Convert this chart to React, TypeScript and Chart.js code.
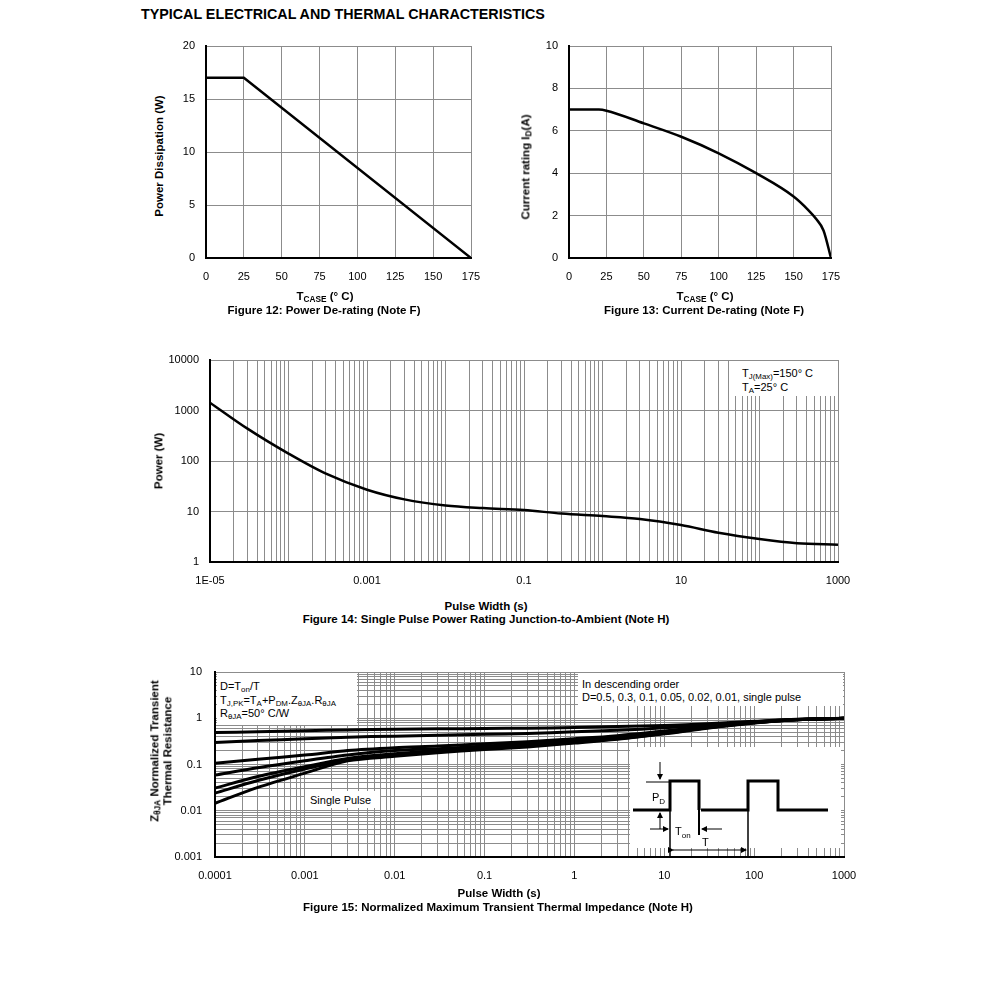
import React, { useEffect, useRef } from 'react';
import { Chart, registerables } from 'chart.js';

Chart.register(...registerables);

const FONT = "'Liberation Sans', Arial, Helvetica, sans-serif";
const GRID = '#8c8c8c';

// ---------- Figure 12: Power De-rating ----------
const fig12Temp = [0, 25, 175];
const fig12Power = [17, 17, 0];
const fig12XTicks = [0, 25, 50, 75, 100, 125, 150, 175];
const fig12YTicks = [0, 5, 10, 15, 20];

// ---------- Figure 13: Current De-rating ----------
const fig13Temp = [0, 20, 25, 50, 75, 100, 125, 150, 160, 165, 170, 175];
const fig13Current = [7, 7, 6.95, 6.35, 5.72, 4.94, 4.0, 2.9, 2.25, 1.85, 1.3, 0];
const fig13XTicks = [0, 25, 50, 75, 100, 125, 150, 175];
const fig13YTicks = [0, 2, 4, 6, 8, 10];

// ---------- Figure 14: Single Pulse Power Rating ----------
const fig14PulseWidth = [1e-5, 3e-5, 1e-4, 3e-4, 1e-3, 3e-3, 0.01, 0.03, 0.1, 0.3, 1, 3, 10, 30, 100, 300, 1000];
const fig14Power = [1430, 437, 140, 56, 27, 17.4, 13.2, 11.7, 10.7, 9.1, 8.1, 7.1, 5.4, 3.8, 2.85, 2.35, 2.2];
const fig14XTickValues = [1e-5, 1e-3, 0.1, 10, 1000];
const fig14XTickLabels = ['1E-05', '0.001', '0.1', '10', '1000'];
const fig14YTickValues = [1, 10, 100, 1000, 10000];
const fig14YTickLabels = ['1', '10', '100', '1000', '10000'];

// ---------- Figure 15: Normalized Transient Thermal Impedance ----------
const fig15PulseWidth = [1e-4, 3e-4, 1e-3, 3e-3, 1e-2, 3e-2, 0.1, 0.3, 1, 3, 10, 30, 100, 300, 1000];
const fig15D05 = [0.49, 0.51, 0.54, 0.56, 0.58, 0.59, 0.6, 0.61, 0.63, 0.66, 0.7, 0.76, 0.86, 0.95, 1.0];
const fig15D03 = [0.3, 0.33, 0.36, 0.39, 0.41, 0.43, 0.45, 0.47, 0.51, 0.55, 0.62, 0.72, 0.84, 0.94, 1.0];
const fig15D01 = [0.106, 0.13, 0.16, 0.2, 0.23, 0.25, 0.28, 0.31, 0.36, 0.42, 0.53, 0.66, 0.82, 0.94, 1.0];
const fig15D005 = [0.059, 0.085, 0.12, 0.16, 0.2, 0.22, 0.25, 0.28, 0.33, 0.39, 0.5, 0.64, 0.81, 0.93, 1.0];
const fig15D002 = [0.031, 0.055, 0.09, 0.135, 0.17, 0.2, 0.23, 0.26, 0.31, 0.37, 0.48, 0.63, 0.8, 0.93, 1.0];
const fig15D001 = [0.024, 0.045, 0.08, 0.125, 0.16, 0.19, 0.22, 0.25, 0.3, 0.36, 0.47, 0.62, 0.8, 0.93, 1.0];
const fig15Single = [0.0145, 0.032, 0.065, 0.12, 0.15, 0.18, 0.21, 0.24, 0.29, 0.35, 0.46, 0.61, 0.79, 0.93, 1.0];
const fig15Series = [fig15D05, fig15D03, fig15D01, fig15D005, fig15D002, fig15D001, fig15Single];
const fig15XTickValues = [1e-4, 1e-3, 1e-2, 0.1, 1, 10, 100, 1000];
const fig15XTickLabels = ['0.0001', '0.001', '0.01', '0.1', '1', '10', '100', '1000'];
const fig15YTickValues = [0.001, 0.01, 0.1, 1, 10];
const fig15YTickLabels = ['0.001', '0.01', '0.1', '1', '10'];

// ---------- helpers ----------
function logGrid(minExp: number, maxExp: number, minor: boolean): number[] {
  const out: number[] = [];
  for (let e = minExp; e < maxExp; e++) {
    const n = minor ? 9 : 1;
    for (let k = 1; k <= n; k++) out.push(k * Math.pow(10, e));
  }
  out.push(Math.pow(10, maxExp));
  return out;
}

function logLabel(values: number[], labels: string[]) {
  return (v: number) => {
    const i = values.findIndex((t) => Math.abs(Math.log10(t) - Math.log10(v)) < 1e-6);
    return i >= 0 ? labels[i] : '';
  };
}

function makeScale(o: {
  type: 'linear' | 'logarithmic';
  min: number;
  max: number;
  ticks: number[];
  label: (v: number) => string;
  size: number;
  horizontal: boolean;
  padding: number;
  fontSize: number;
}) {
  return {
    type: o.type,
    min: o.min,
    max: o.max,
    afterBuildTicks: (s: any) => {
      s.ticks = o.ticks.map((v) => ({ value: v }));
    },
    afterFit: (s: any) => {
      if (o.horizontal) s.height = o.size;
      else s.width = o.size;
      s.paddingTop = 0;
      s.paddingBottom = 0;
      s.paddingLeft = 0;
      s.paddingRight = 0;
    },
    grid: { color: GRID, lineWidth: 1, drawTicks: false },
    border: { display: true, color: '#000', width: 2 },
    ticks: {
      padding: o.padding,
      color: '#000',
      font: { family: FONT, size: o.fontSize },
      autoSkip: false,
      maxRotation: 0,
      minRotation: 0,
      callback: (v: any) => o.label(Number(v)),
    },
  };
}

function baseOptions(top: number, right: number, scales: any) {
  return {
    animation: false,
    responsive: false,
    events: [],
    layout: { padding: { top, right, left: 0, bottom: 0 } },
    plugins: { legend: { display: false }, tooltip: { enabled: false }, title: { display: false } },
    scales,
  };
}

function toPoints(xs: number[], ys: number[]) {
  return xs.map((x, i) => ({ x, y: ys[i] }));
}

function ChartCanvas(props: { left: number; top: number; width: number; height: number; build: () => any }) {
  const ref = useRef<HTMLCanvasElement | null>(null);
  useEffect(() => {
    if (!ref.current) return;
    const chart = new Chart(ref.current, props.build());
    return () => chart.destroy();
  }, []);
  return (
    <canvas
      ref={ref}
      width={props.width}
      height={props.height}
      style={{ position: 'absolute', left: props.left, top: props.top, width: props.width, height: props.height }}
    />
  );
}

const Sub = (p: { children: any }) => (
  <span style={{ fontSize: '0.72em', position: 'relative', top: '0.3em' }}>{p.children}</span>
);

function T(p: {
  x: number;
  y: number;
  children: any;
  size?: number;
  bold?: boolean;
  rotate?: boolean;
  left?: boolean;
  lh?: number;
}) {
  const tr = p.left ? 'translate(0,-50%)' : `translate(-50%,-50%)${p.rotate ? ' rotate(-90deg)' : ''}`;
  return (
    <div
      style={{
        position: 'absolute',
        left: p.x,
        top: p.y,
        transform: tr,
        whiteSpace: 'nowrap',
        fontFamily: FONT,
        fontSize: p.size ?? 11,
        fontWeight: p.bold ? 700 : 400,
        color: '#000',
        lineHeight: p.lh ?? 1.15,
        textAlign: p.left ? 'left' : 'center',
      }}
    >
      {p.children}
    </div>
  );
}

const Box = (p: { x: number; y: number; w: number; h: number }) => (
  <div style={{ position: 'absolute', left: p.x, top: p.y, width: p.w, height: p.h, background: '#fff' }} />
);

// ---------- chart configs ----------
const buildFig12 = () => ({
  type: 'line',
  data: {
    datasets: [
      { data: toPoints(fig12Temp, fig12Power), borderColor: '#000', borderWidth: 2.5, pointRadius: 0, tension: 0 },
    ],
  },
  options: baseOptions(10, 19, {
    x: makeScale({ type: 'linear', min: 0, max: 175, ticks: fig12XTicks, label: (v) => String(v), size: 33, horizontal: true, padding: 12, fontSize: 11 }),
    y: makeScale({ type: 'linear', min: 0, max: 20, ticks: fig12YTicks, label: (v) => String(v), size: 36, horizontal: false, padding: 11, fontSize: 11 }),
  }),
});

const buildFig13 = () => ({
  type: 'line',
  data: {
    datasets: [
      { data: toPoints(fig13Temp, fig13Current), borderColor: '#000', borderWidth: 2.5, pointRadius: 0, cubicInterpolationMode: 'monotone' },
    ],
  },
  options: baseOptions(10, 19, {
    x: makeScale({ type: 'linear', min: 0, max: 175, ticks: fig13XTicks, label: (v) => String(v), size: 33, horizontal: true, padding: 12, fontSize: 11 }),
    y: makeScale({ type: 'linear', min: 0, max: 10, ticks: fig13YTicks, label: (v) => String(v), size: 39, horizontal: false, padding: 11, fontSize: 11 }),
  }),
});

const buildFig14 = () => ({
  type: 'line',
  data: {
    datasets: [
      { data: toPoints(fig14PulseWidth, fig14Power), borderColor: '#000', borderWidth: 2.5, pointRadius: 0, cubicInterpolationMode: 'monotone' },
    ],
  },
  options: baseOptions(10, 22, {
    x: makeScale({ type: 'logarithmic', min: 1e-5, max: 1000, ticks: logGrid(-5, 3, true), label: logLabel(fig14XTickValues, fig14XTickLabels), size: 33, horizontal: true, padding: 12, fontSize: 11 }),
    y: makeScale({ type: 'logarithmic', min: 1, max: 10000, ticks: logGrid(0, 4, false), label: logLabel(fig14YTickValues, fig14YTickLabels), size: 70, horizontal: false, padding: 11, fontSize: 11 }),
  }),
});

const buildFig15 = () => ({
  type: 'line',
  data: {
    datasets: fig15Series.map((s) => ({
      data: toPoints(fig15PulseWidth, s),
      borderColor: '#000',
      borderWidth: 3,
      pointRadius: 0,
      tension: 0.3,
    })),
  },
  options: baseOptions(10, 16, {
    x: makeScale({ type: 'logarithmic', min: 1e-4, max: 1000, ticks: logGrid(-4, 3, true), label: logLabel(fig15XTickValues, fig15XTickLabels), size: 33, horizontal: true, padding: 12, fontSize: 11 }),
    y: makeScale({ type: 'logarithmic', min: 0.001, max: 10, ticks: logGrid(-3, 1, true), label: logLabel(fig15YTickValues, fig15YTickLabels), size: 45, horizontal: false, padding: 13, fontSize: 11 }),
  }),
});

export default function App() {
  return (
    <div style={{ position: 'absolute', left: 0, top: 0, width: 991, height: 988, background: '#fff', overflow: 'hidden' }}>
      <T x={141} y={14} size={14.3} bold left>
        TYPICAL ELECTRICAL AND THERMAL CHARACTERISTICS
      </T>

      {/* Figure 12 */}
      <ChartCanvas left={170} top={36} width={320} height={255} build={buildFig12} />
      <T x={160} y={156} size={11.5} bold rotate>
        Power Dissipation (W)
      </T>
      <T x={325} y={297} size={11.5} bold>
        T<Sub>CASE</Sub> (° C)
      </T>
      <T x={324} y={311} size={11.5} bold>
        Figure 12: Power De-rating (Note F)
      </T>

      {/* Figure 13 */}
      <ChartCanvas left={530} top={36} width={320} height={255} build={buildFig13} />
      <T x={526} y={167} size={11.5} bold rotate>
        Current rating I<Sub>D</Sub>(A)
      </T>
      <T x={705} y={297} size={11.5} bold>
        T<Sub>CASE</Sub> (° C)
      </T>
      <T x={704} y={311} size={11.5} bold>
        Figure 13: Current De-rating (Note F)
      </T>

      {/* Figure 14 */}
      <ChartCanvas left={140} top={350} width={720} height={245} build={buildFig14} />
      <Box x={733} y={361} w={102} h={35} />
      <T x={742} y={373} size={11} left>
        T<Sub>J(Max)</Sub>=150° C
      </T>
      <T x={742} y={387} size={11} left>
        T<Sub>A</Sub>=25° C
      </T>
      <T x={159} y={461} size={11.5} bold rotate>
        Power (W)
      </T>
      <T x={486} y={607} size={11.5} bold>
        Pulse Width (s)
      </T>
      <T x={486} y={620} size={11.5} bold>
        Figure 14: Single Pulse Power Rating Junction-to-Ambient (Note H)
      </T>

      {/* Figure 15 */}
      <ChartCanvas left={170} top={662} width={690} height={228} build={buildFig15} />
      <Box x={217} y={673} w={140} h={52} />
      <T x={220} y={686} size={11} left>
        D=T<Sub>on</Sub>/T
      </T>
      <T x={220} y={700} size={11} left>
        T<Sub>J,PK</Sub>=T<Sub>A</Sub>+P<Sub>DM</Sub>.Z<Sub>θJA</Sub>.R<Sub>θJA</Sub>
      </T>
      <T x={220} y={713} size={11} left>
        R<Sub>θJA</Sub>=50° C/W
      </T>
      <Box x={578} y={673} w={265} h={33} />
      <T x={582} y={684} size={11} left>
        In descending order
      </T>
      <T x={582} y={697} size={11} left>
        D=0.5, 0.3, 0.1, 0.05, 0.02, 0.01, single pulse
      </T>
      <Box x={305} y={791} w={75} h={17} />
      <T x={310} y={800} size={11} left>
        Single Pulse
      </T>
      <Box x={630} y={747} w={211} h={101} />
      <svg
        width={213}
        height={111}
        style={{ position: 'absolute', left: 630, top: 747, overflow: 'visible' }}
      >
        <defs>
          <marker id="ah" markerWidth="6" markerHeight="6" refX="5" refY="3" orient="auto">
            <path d="M0,0 L6,3 L0,6 z" fill="#000" />
          </marker>
        </defs>
        <path d="M3,63 H40 V34 H69 V63" fill="none" stroke="#000" strokeWidth={3} />
        <path d="M71,63 H118 V34 H148 V63 H198" fill="none" stroke="#000" strokeWidth={3} />
        <line x1={69} y1={63} x2={69} y2={88} stroke="#000" strokeWidth={2} />
        <line x1={40} y1={63} x2={40} y2={110} stroke="#000" strokeWidth={1.5} />
        <line x1={118} y1={63} x2={118} y2={110} stroke="#000" strokeWidth={1.5} />
        <line x1={16} y1={35} x2={40} y2={35} stroke="#000" strokeWidth={1} />
        <line x1={30} y1={15} x2={30} y2={32} stroke="#000" strokeWidth={1} markerEnd="url(#ah)" />
        <line x1={30} y1={82} x2={30} y2={66} stroke="#000" strokeWidth={1} markerEnd="url(#ah)" />
        <line x1={20} y1={82} x2={38} y2={82} stroke="#000" strokeWidth={1} markerEnd="url(#ah)" />
        <line x1={92} y1={82} x2={72} y2={82} stroke="#000" strokeWidth={1} markerEnd="url(#ah)" />
        <line x1={43} y1={103} x2={116} y2={103} stroke="#000" strokeWidth={1} markerStart="url(#ah)" markerEnd="url(#ah)" />
        <text x={22} y={54} fontFamily={FONT} fontSize={11}>
          P<tspan fontSize={8} dy={3}>D</tspan>
        </text>
        <text x={45} y={88} fontFamily={FONT} fontSize={11}>
          T<tspan fontSize={8} dy={3}>on</tspan>
        </text>
        <text x={72} y={99} fontFamily={FONT} fontSize={11}>
          T
        </text>
      </svg>
      <T x={161} y={751} size={11.5} bold rotate lh={1.1}>
        Z<Sub>θJA</Sub> Normalized Transient
        <br />
        Thermal Resistance
      </T>
      <T x={499} y={894} size={11.5} bold>
        Pulse Width (s)
      </T>
      <T x={498} y={908} size={11.5} bold>
        Figure 15: Normalized Maximum Transient Thermal Impedance (Note H)
      </T>
    </div>
  );
}
